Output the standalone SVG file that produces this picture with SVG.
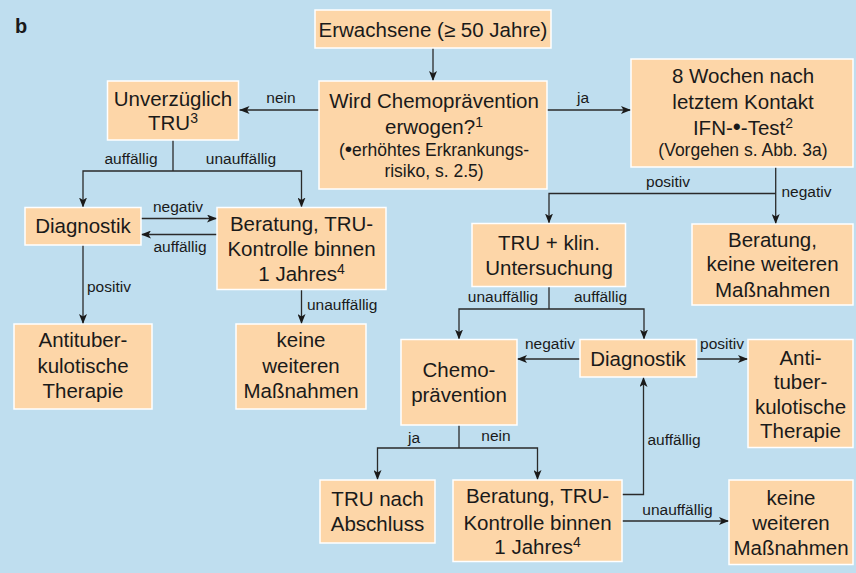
<svg xmlns="http://www.w3.org/2000/svg" width="856" height="573" viewBox="0 0 856 573">
<defs>
<style>
.bg{fill:#bfdeef}
.bx{fill:#fdd6a8;stroke:#ffffff;stroke-width:1.5}
.t{font-family:"Liberation Sans",Arial,sans-serif;font-size:20.5px;fill:#1a1a1a;text-anchor:middle}
.s{font-size:17.5px}
.l{font-family:"Liberation Sans",Arial,sans-serif;font-size:15.5px;fill:#1a1a1a}
.m{text-anchor:middle}
.c{fill:none;stroke:#2a2a2a;stroke-width:1.3}
.a{marker-end:url(#ah)}
.sup{font-size:14px}
</style>
<marker id="ah" markerUnits="userSpaceOnUse" markerWidth="10" markerHeight="8" refX="10" refY="4" orient="auto"><path d="M0,0 L10,4 L0,8 L2.5,4 z" fill="#1a1a1a"/></marker>
</defs>
<rect class="bg" x="0" y="0" width="856" height="573"/>
<text x="15" y="33" font-family="Liberation Sans, Arial, sans-serif" font-size="20" font-weight="bold" fill="#1a1a1a">b</text>

<g id="connectors">
<path class="c a" d="M433,48 V81"/>
<path class="c a" d="M319,110 H239.5"/>
<path class="c a" d="M547,110 H631"/>
<path class="c" d="M173,140 V171"/>
<path class="c a" d="M173,171 H83 V207.5"/>
<path class="c a" d="M173,171 H301.5 V207.5"/>
<path class="c a" d="M141,218.5 H217"/>
<path class="c a" d="M217,234.5 H141"/>
<path class="c a" d="M83,245 V324"/>
<path class="c a" d="M301.5,289.5 V324"/>
<path class="c a" d="M775.7,167 V224"/>
<path class="c a" d="M775.7,193.5 H549 V223.5"/>
<path class="c" d="M549,286.5 V309"/>
<path class="c a" d="M549,309 H459 V339.5"/>
<path class="c a" d="M549,309 H644 V339.5"/>
<path class="c a" d="M580,359 H517"/>
<path class="c a" d="M696.5,359 H748"/>
<path class="c" d="M459,425 V448"/>
<path class="c a" d="M459,448 H377.5 V480"/>
<path class="c a" d="M459,448 H537.5 V480"/>
<path class="c a" d="M622,494.5 H643.5 V377"/>
<path class="c a" d="M622,521 H729"/>
<text class="l m" x="281" y="103">nein</text>
<text class="l m" x="583" y="103">ja</text>
<text class="l m" x="131" y="164">auffällig</text>
<text class="l m" x="241" y="164">unauffällig</text>
<text class="l m" x="178" y="212">negativ</text>
<text class="l m" x="180" y="252">auffällig</text>
<text class="l" x="87" y="292">positiv</text>
<text class="l" x="307" y="309.5">unauffällig</text>
<text class="l m" x="668" y="187">positiv</text>
<text class="l" x="781.5" y="197">negativ</text>
<text class="l m" x="503" y="302">unauffällig</text>
<text class="l m" x="600.5" y="302">auffällig</text>
<text class="l m" x="550" y="348.5">negativ</text>
<text class="l m" x="722" y="348.5">positiv</text>
<text class="l m" x="414" y="443">ja</text>
<text class="l m" x="496" y="441">nein</text>
<text class="l" x="647.5" y="445">auffällig</text>
<text class="l m" x="677.5" y="515">unauffällig</text>
</g>

<g id="n1"><rect class="bx" x="315" y="10" width="236" height="38"/>
<text class="t" x="433" y="36.5">Erwachsene (≥ 50 Jahre)</text></g>

<g id="n2"><rect class="bx" x="319" y="81" width="228" height="108"/>
<text class="t" x="434" y="108">Wird Chemoprävention</text>
<text class="t" x="434" y="134">erwogen?<tspan class="sup" dy="-7">1</tspan></text>
<text class="t s" x="434" y="156">(<tspan font-size="21">•</tspan>erhöhtes Erkrankungs-</text>
<text class="t s" x="434" y="177">risiko, s. 2.5)</text></g>

<g id="n3"><rect class="bx" x="107.5" y="81" width="131" height="59"/>
<text class="t" x="173" y="106">Unverzüglich</text>
<text class="t" x="173" y="130">TRU<tspan class="sup" dy="-7">3</tspan></text></g>

<g id="n4"><rect class="bx" x="631" y="59" width="222" height="108"/>
<text class="t" x="743" y="83">8 Wochen nach</text>
<text class="t" x="743" y="109">letztem Kontakt</text>
<text class="t" x="743" y="135">IFN-<tspan font-size="23">•</tspan>-Test<tspan class="sup" dy="-7">2</tspan></text>
<text class="t s" x="743" y="156">(Vorgehen s. Abb. 3a)</text></g>

<g id="n5"><rect class="bx" x="25" y="207.5" width="116" height="37.5"/>
<text class="t" x="83" y="233">Diagnostik</text></g>

<g id="n6"><rect class="bx" x="217" y="207.5" width="169" height="82"/>
<text class="t" x="301.5" y="231">Beratung, TRU-</text>
<text class="t" x="301.5" y="256">Kontrolle binnen</text>
<text class="t" x="301.5" y="281">1 Jahres<tspan class="sup" dy="-7">4</tspan></text></g>

<g id="n7"><rect class="bx" x="14" y="324" width="138" height="85"/>
<text class="t" x="83" y="347">Antituber-</text>
<text class="t" x="83" y="373">kulotische</text>
<text class="t" x="83" y="398">Therapie</text></g>

<g id="n8"><rect class="bx" x="236" y="324" width="130" height="85"/>
<text class="t" x="301" y="347">keine</text>
<text class="t" x="301" y="373">weiteren</text>
<text class="t" x="301" y="398">Maßnahmen</text></g>

<g id="n9"><rect class="bx" x="472" y="223.5" width="153.5" height="63"/>
<text class="t" x="549" y="249.5">TRU + klin.</text>
<text class="t" x="549" y="275">Untersuchung</text></g>

<g id="n10"><rect class="bx" x="692" y="224" width="161" height="81"/>
<text class="t" x="772.5" y="247">Beratung,</text>
<text class="t" x="772.5" y="271">keine weiteren</text>
<text class="t" x="772.5" y="297">Maßnahmen</text></g>

<g id="n11"><rect class="bx" x="401" y="339.5" width="116" height="85.5"/>
<text class="t" x="459" y="377">Chemo-</text>
<text class="t" x="459" y="402">prävention</text></g>

<g id="n12"><rect class="bx" x="580" y="339.5" width="116.5" height="37.5"/>
<text class="t" x="638" y="366">Diagnostik</text></g>

<g id="n13"><rect class="bx" x="748" y="339.5" width="105" height="108"/>
<text class="t" x="800.5" y="365">Anti-</text>
<text class="t" x="800.5" y="389">tuber-</text>
<text class="t" x="800.5" y="413.5">kulotische</text>
<text class="t" x="800.5" y="438">Therapie</text></g>

<g id="n14"><rect class="bx" x="320" y="480" width="115" height="63"/>
<text class="t" x="377.5" y="506">TRU nach</text>
<text class="t" x="377.5" y="531">Abschluss</text></g>

<g id="n15"><rect class="bx" x="453" y="480" width="169" height="81.5"/>
<text class="t" x="537.5" y="503">Beratung, TRU-</text>
<text class="t" x="537.5" y="529.5">Kontrolle binnen</text>
<text class="t" x="537.5" y="553.5">1 Jahres<tspan class="sup" dy="-7">4</tspan></text></g>

<g id="n16"><rect class="bx" x="729" y="480" width="124" height="84.5"/>
<text class="t" x="791" y="505">keine</text>
<text class="t" x="791" y="530">weiteren</text>
<text class="t" x="791" y="555">Maßnahmen</text></g>
</svg>
